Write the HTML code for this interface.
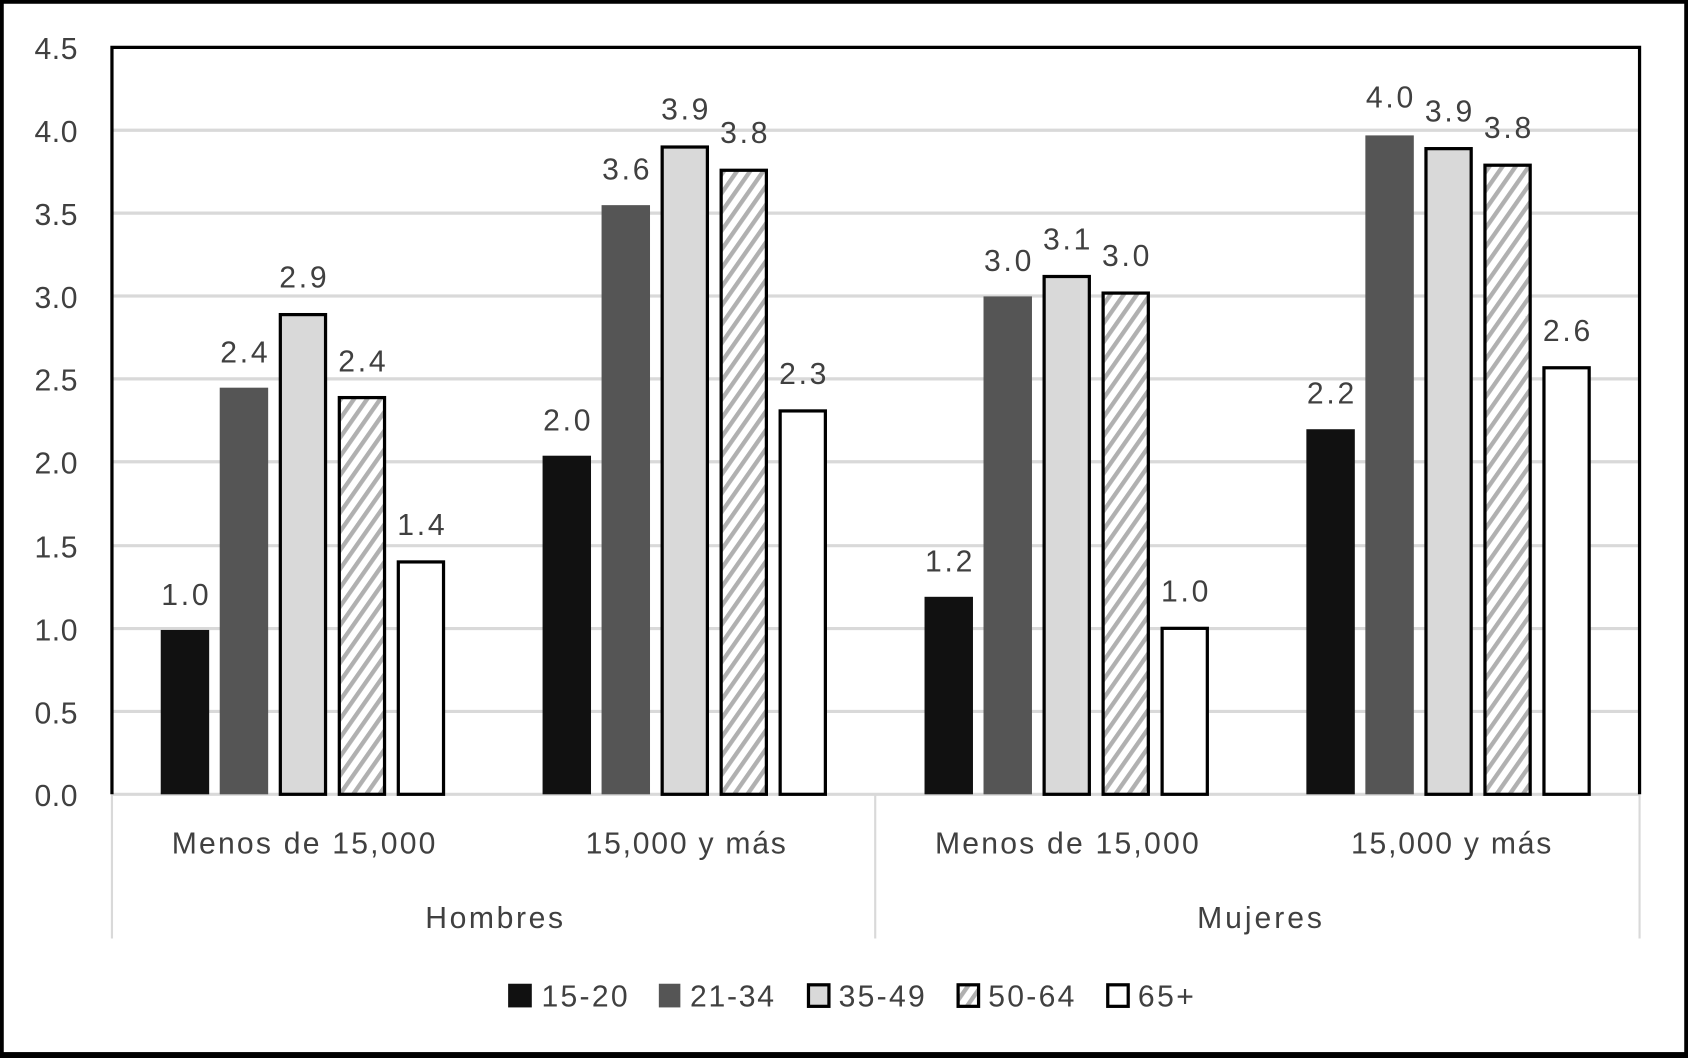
<!DOCTYPE html>
<html><head><style>html,body{margin:0;padding:0;background:#fff}svg{display:block}</style></head>
<body>
<svg width="1688" height="1058" viewBox="0 0 1568 983" preserveAspectRatio="none" xmlns="http://www.w3.org/2000/svg" font-family="Liberation Sans, sans-serif">
<defs>
<pattern id="hatch" width="10" height="10" patternUnits="userSpaceOnUse" patternTransform="rotate(35)">
<rect width="10" height="10" fill="#fff"/><rect width="4" height="10" fill="#b0b0b0"/>
</pattern>
</defs>
<rect x="1.5" y="1.5" width="1565" height="978" fill="#fff" stroke="#000" stroke-width="4"/>
<rect x="0" y="978" width="1568" height="5" fill="#000"/>
<g stroke="#d9d9d9" stroke-width="3">
<line x1="104" y1="121" x2="1523" y2="121"/>
<line x1="104" y1="198" x2="1523" y2="198"/>
<line x1="104" y1="275" x2="1523" y2="275"/>
<line x1="104" y1="352" x2="1523" y2="352"/>
<line x1="104" y1="429" x2="1523" y2="429"/>
<line x1="104" y1="507" x2="1523" y2="507"/>
<line x1="104" y1="584" x2="1523" y2="584"/>
<line x1="104" y1="661" x2="1523" y2="661"/>
<line x1="104" y1="738" x2="1523" y2="738"/>
<line x1="104" y1="738" x2="104" y2="872" stroke-width="2"/>
<line x1="813" y1="738" x2="813" y2="872" stroke-width="2"/>
<line x1="1523" y1="738" x2="1523" y2="872" stroke-width="2"/>
</g>
<path d="M104 738 V44 H1523 V738" fill="none" stroke="#000" stroke-width="3"/>
<g font-size="28" fill="#404040" text-anchor="end" lengthAdjust="spacingAndGlyphs">
<text x="72" y="55" textLength="40">4.5</text><text x="72" y="132" textLength="40">4.0</text><text x="72" y="209" textLength="40">3.5</text>
<text x="72" y="286" textLength="40">3.0</text><text x="72" y="363" textLength="40">2.5</text><text x="72" y="440" textLength="40">2.0</text>
<text x="72" y="518" textLength="40">1.5</text><text x="72" y="595" textLength="40">1.0</text><text x="72" y="672" textLength="40">0.5</text>
<text x="72" y="749" textLength="40">0.0</text>
</g>
<g>
<rect x="149.3" y="585.3" width="45" height="152.7" fill="#111"/>
<rect x="204.1" y="360.2" width="45" height="377.8" fill="#555"/>
<rect x="260.4" y="292.3" width="42" height="445.7" fill="#d9d9d9" stroke="#000" stroke-width="3"/>
<rect x="315.2" y="369.4" width="42" height="368.6" fill="url(#hatch)" stroke="#000" stroke-width="3"/>
<rect x="370.0" y="522.1" width="42" height="215.9" fill="#fff" stroke="#000" stroke-width="3"/>

<rect x="504.0" y="423.4" width="45" height="314.6" fill="#111"/>
<rect x="558.8" y="190.6" width="45" height="547.4" fill="#555"/>
<rect x="615.1" y="136.6" width="42" height="601.4" fill="#d9d9d9" stroke="#000" stroke-width="3"/>
<rect x="669.9" y="158.2" width="42" height="579.8" fill="url(#hatch)" stroke="#000" stroke-width="3"/>
<rect x="724.7" y="381.8" width="42" height="356.2" fill="#fff" stroke="#000" stroke-width="3"/>

<rect x="858.8" y="554.5" width="45" height="183.5" fill="#111"/>
<rect x="913.6" y="275.4" width="45" height="462.6" fill="#555"/>
<rect x="969.9" y="256.9" width="42" height="481.1" fill="#d9d9d9" stroke="#000" stroke-width="3"/>
<rect x="1024.7" y="272.3" width="42" height="465.7" fill="url(#hatch)" stroke="#000" stroke-width="3"/>
<rect x="1079.5" y="583.8" width="42" height="154.2" fill="#fff" stroke="#000" stroke-width="3"/>

<rect x="1213.5" y="398.8" width="45" height="339.2" fill="#111"/>
<rect x="1268.3" y="125.8" width="45" height="612.2" fill="#555"/>
<rect x="1324.6" y="138.1" width="42" height="599.9" fill="#d9d9d9" stroke="#000" stroke-width="3"/>
<rect x="1379.4" y="153.5" width="42" height="584.5" fill="url(#hatch)" stroke="#000" stroke-width="3"/>
<rect x="1434.2" y="341.7" width="42" height="396.3" fill="#fff" stroke="#000" stroke-width="3"/>
</g>
<g font-size="28" fill="#404040" text-anchor="middle" lengthAdjust="spacingAndGlyphs">
<text x="171.8" y="562" textLength="44">1.0</text>
<text x="226.6" y="337" textLength="44">2.4</text>
<text x="281.4" y="267" textLength="44">2.9</text>
<text x="336.2" y="345" textLength="44">2.4</text>
<text x="391.0" y="497" textLength="44">1.4</text>

<text x="526.5" y="400" textLength="44">2.0</text>
<text x="581.3" y="167" textLength="44">3.6</text>
<text x="636.1" y="111" textLength="44">3.9</text>
<text x="690.9" y="133" textLength="44">3.8</text>
<text x="745.7" y="357" textLength="44">2.3</text>

<text x="881.3" y="531" textLength="44">1.2</text>
<text x="936.1" y="252" textLength="44">3.0</text>
<text x="990.9" y="232" textLength="44">3.1</text>
<text x="1045.7" y="247" textLength="44">3.0</text>
<text x="1100.5" y="559" textLength="44">1.0</text>

<text x="1236.0" y="375" textLength="44">2.2</text>
<text x="1290.8" y="100" textLength="44">4.0</text>
<text x="1345.6" y="113" textLength="44">3.9</text>
<text x="1400.4" y="128" textLength="44">3.8</text>
<text x="1455.2" y="317" textLength="44">2.6</text>
</g>
<g font-size="28" fill="#404040" text-anchor="middle" lengthAdjust="spacingAndGlyphs">
<text x="282" y="793" textLength="245">Menos de 15,000</text>
<text x="637" y="793" textLength="186">15,000 y más</text>
<text x="991" y="793" textLength="245">Menos de 15,000</text>
<text x="1348" y="793" textLength="186">15,000 y más</text>
<text x="459" y="862" textLength="128">Hombres</text>
<text x="1170" y="862" textLength="116">Mujeres</text>
</g>
<g font-size="28" fill="#404040" lengthAdjust="spacingAndGlyphs">
<rect x="472" y="914" width="22" height="22" fill="#111"/><text x="503" y="935" textLength="80">15-20</text>
<rect x="612" y="914" width="20" height="22" fill="#555"/><text x="641" y="935" textLength="78">21-34</text>
<rect x="751" y="915" width="19" height="20" fill="#d9d9d9" stroke="#000" stroke-width="3"/><text x="779" y="935" textLength="80">35-49</text>
<rect x="890" y="915" width="19" height="20" fill="url(#hatch)" stroke="#000" stroke-width="3"/><text x="918" y="935" textLength="80">50-64</text>
<rect x="1029" y="915" width="19" height="20" fill="#fff" stroke="#000" stroke-width="3"/><text x="1057" y="935" textLength="52">65+</text>
</g>
</svg>
</body></html>
